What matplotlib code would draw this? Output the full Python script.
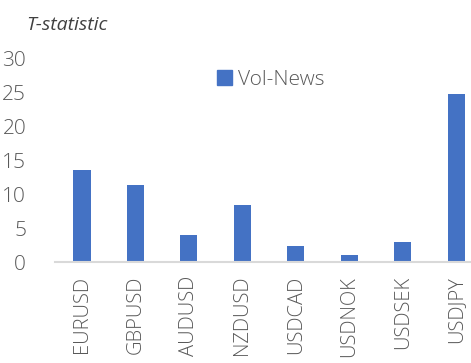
import matplotlib
matplotlib.use("Agg")
import matplotlib.pyplot as plt
from matplotlib.patches import Patch

categories = ["EURUSD", "GBPUSD", "AUDUSD", "NZDUSD", "USDCAD", "USDNOK", "USDSEK", "USDJPY"]
vol_news = [13.5, 11.3, 3.9, 8.4, 2.35, 1.0, 2.9, 24.7]
yticks = [0, 5, 10, 15, 20, 25, 30]

plt.rcParams['font.family'] = ['Open Sans', 'DejaVu Sans']
fig = plt.figure(figsize=(4.71, 3.63), dpi=100)
ax = fig.add_axes([55.3/471, 101/363, 427.5/471, 204/363])

x = list(range(len(categories)))
ax.bar(x, vol_news, width=0.32, color="#4472C4", zorder=2)
ax.set_xlim(-0.5, len(categories) - 0.5)
ax.set_ylim(0, 30)
ax.set_yticks(yticks)
ax.set_yticklabels([str(t) for t in yticks], fontsize=15, color="#595959", fontweight="light")
ax.set_xticks(x)
ax.set_xticklabels(categories, rotation=90, fontsize=14.5, color="#595959", fontweight="light", va="top")
ax.tick_params(axis="both", length=0)
ax.tick_params(axis="y", pad=21)
ax.tick_params(axis="x", pad=10)
for s in ["top", "right", "left"]:
    ax.spines[s].set_visible(False)
ax.spines["bottom"].set_color("#D9D9D9")
ax.spines["bottom"].set_linewidth(1.5)

fig.text(26/471, 1 - 25/363, "T-statistic", fontsize=14, style="italic", color="#404040", va="center", ha="left")

handle = Patch(color="#4472C4")
leg = fig.legend([handle], ["Vol-News"], loc="center left", bbox_to_anchor=(198/471, 1 - 80/363),
                 frameon=False, fontsize=15, handlelength=0.75, handleheight=0.75, handletextpad=0.25)
for t in leg.get_texts():
    t.set_color("#595959")
    t.set_fontweight("light")

fig.savefig("out.png", dpi=100)
